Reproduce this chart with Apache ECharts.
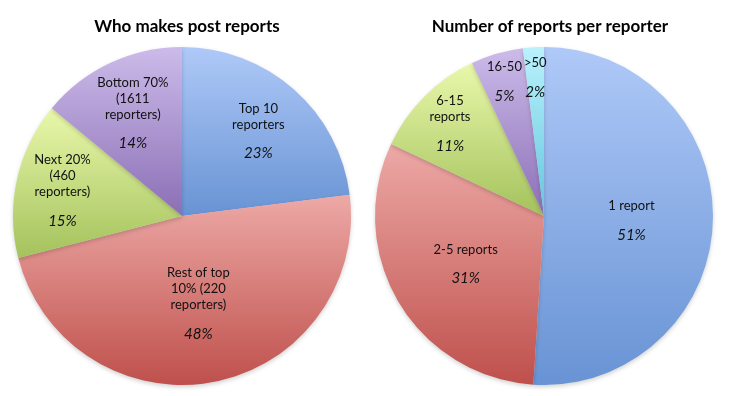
<!DOCTYPE html>
<html>
<head>
<meta charset="utf-8">
<script src="https://cdn.jsdelivr.net/npm/echarts@6/dist/echarts.min.js"></script>
<style>
html,body{margin:0;padding:0;background:#fff;}
#c{width:732px;height:396px;}
</style>
</head>
<body>
<div id="c"></div>
<script>
// ---- data ----
var leftTitle = 'Who makes post reports';
var rightTitle = 'Number of reports per reporter';
var leftNames = ['Top 10\nreporters', 'Rest of top\n10% (220\nreporters)', 'Next 20%\n(460\nreporters)', 'Bottom 70%\n(1611\nreporters)'];
var leftValues = [23, 48, 15, 14];
var rightNames = ['1 report', '2-5 reports', '6-15\nreports', '16-50', '>50'];
var rightValues = [51, 31, 11, 5, 2];

// ---- styles ----
function grad(top, bottom) {
  return new echarts.graphic.LinearGradient(0, 0, 0, 1, [
    {offset: 0, color: top}, {offset: 1, color: bottom}
  ]);
}
var BLUE = grad('#afc9f8', '#6893d4');
var RED = grad('#eda9a6', '#bf504c');
var GREEN = grad('#e9f8ab', '#a4c25c');
var PURPLE = grad('#ccbbea', '#8b6fb5');
var CYAN = grad('#baf1fc', '#62c6de');
var leftColors = [BLUE, RED, GREEN, PURPLE];
var rightColors = [BLUE, RED, GREEN, PURPLE, CYAN];

var FONT = 'Lato, "Open Sans", sans-serif';

function build(names, values, colors) {
  return names.map(function (n, i) {
    return {name: n, value: values[i], itemStyle: {color: colors[i]}};
  });
}

function makeSeries(id, center, data, factors) {
  return {
    type: 'pie',
    id: id,
    center: center,
    radius: [0, 169],
    startAngle: 90,
    clockwise: true,
    avoidLabelOverlap: false,
    silent: true,
    data: data,
    itemStyle: {
      borderWidth: 0,
      shadowBlur: 4,
      shadowOffsetY: 2,
      shadowColor: 'rgba(0,0,0,0.18)'
    },
    label: {
      show: true,
      position: 'inside',
      fontFamily: FONT,
      formatter: function (p) { return '{t|' + p.name.split('\n').join('}\n{t|') + '}\n{g|}\n{p|' + p.value + '%}'; },
      rich: {
        t: {fontFamily: FONT, fontSize: 13, color: '#111', lineHeight: 16, align: 'center'},
        g: {fontSize: 6, lineHeight: 12},
        p: {fontFamily: FONT, fontSize: 15, fontStyle: 'italic', color: '#111', lineHeight: 18, align: 'center'}
      }
    },
    labelLine: {show: false},
    labelLayout: function (params) {
      var r = params.labelRect;
      var lx = r.x + r.width / 2, ly = r.y + r.height / 2;
      var k = factors[params.dataIndex] / 0.5 - 1;
      return {dx: (lx - center[0]) * k, dy: (ly - center[1]) * k + 2};
    }
  };
}

var chart = echarts.init(document.getElementById('c'), null, {renderer: 'canvas'});
chart.setOption({
  backgroundColor: '#ffffff',
  animation: false,
  title: [
    {text: leftTitle, left: 182, top: 13, textAlign: 'center',
     textStyle: {fontFamily: FONT, fontSize: 17, fontWeight: 'bold', color: '#000'}},
    {text: rightTitle, left: 545, top: 13, textAlign: 'center',
     textStyle: {fontFamily: FONT, fontSize: 17, fontWeight: 'bold', color: '#000'}}
  ],
  series: [
    makeSeries('left', [182, 216], build(leftNames, leftValues, leftColors), [0.66, 0.5, 0.7, 0.66]),
    makeSeries('right', [544, 216], build(rightNames, rightValues, rightColors), [0.5, 0.52, 0.76, 0.81, 0.8])
  ]
});
</script>
</body>
</html>
